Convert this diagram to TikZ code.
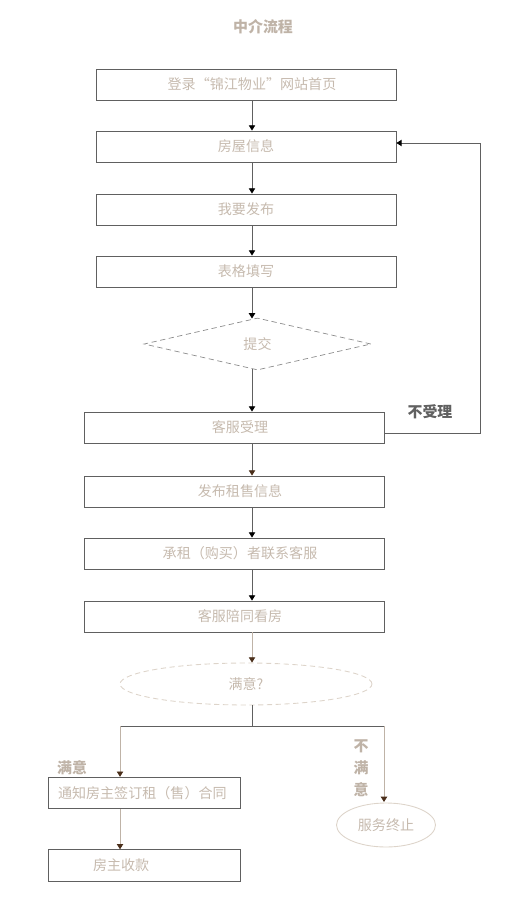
\documentclass[tikz,border=0pt]{standalone}
\usepackage{fontspec}
\newfontfamily\cjk{Noto Sans CJK SC}
\usetikzlibrary{shapes.geometric,arrows.meta}
\definecolor{boxgray}{HTML}{606060}
\definecolor{txtgray}{HTML}{C6BAAE}
\definecolor{tanline}{HTML}{BFB3A7}
\definecolor{tipbrown}{HTML}{4A2E1A}
\definecolor{dashgray}{HTML}{8C8C8C}
\definecolor{palering}{HTML}{DDD4CA}

\begin{document}
\begin{tikzpicture}[x=0.02cm, y=-0.02cm, line width=0.5pt,
    every node/.style={font=\cjk\fontsize{8}{10}\selectfont, text=txtgray, inner sep=0pt},
    stepbox/.style={draw=boxgray, rectangle, minimum width=6cm, minimum height=0.62cm},
    textshift/.style={execute at begin node={\hspace*{0.24cm}}},
    smallbox/.style={draw=boxgray, rectangle, minimum width=3.84cm, minimum height=0.63cm},
    flow/.style={draw=boxgray, -{Triangle[width=3.6pt,length=3pt,color=black]}},
    flowbrown/.style={draw=boxgray, -{Triangle[width=3.6pt,length=3pt,color=tipbrown]}},
    flowtan/.style={draw=tanline, -{Triangle[width=3.6pt,length=3pt,color=tipbrown]}},
    tag/.style={font=\cjk\bfseries\fontsize{8.5}{12.5}\selectfont}]
      \useasboundingbox (0,0) rectangle (511,912);

      \node[tag, text=tanline] (title) at (263,27) {中介流程};

      \node[stepbox, textshift] (login) at (246,84.5) {登录“锦江物业”网站首页};
      \node[stepbox] (house) at (246,146.5) {房屋信息};
      \node[stepbox] (post) at (246,209.5) {我要发布};
      \node[stepbox] (form) at (246,271.5) {表格填写};
      \node[diamond, draw=dashgray, densely dashed, line width=0.4pt,
            minimum width=4.54cm, minimum height=1.04cm] (submit) at (257.5,344) {提交};
      \node[stepbox, textshift] (accept) at (234,427.5) {客服受理};
      \node[stepbox, textshift] (release) at (234,491.5) {发布租售信息};
      \node[stepbox, textshift] (contact) at (234,553.5) {承租（购买）者联系客服};
      \node[stepbox, textshift] (visit) at (234,616.5) {客服陪同看房};
      \node[ellipse, draw=palering, densely dashed,
            minimum width=5.04cm, minimum height=0.84cm] (happy) at (246,684) {满意?};
      \node[smallbox, align=left, text width=3.44cm] (contract) at (144,793) {通知房主签订租（售）合同};
      \node[smallbox, align=left, text width=2.04cm] (payment) at (144,865.5) {房主收款};
      \node[ellipse, draw=palering, minimum width=1.98cm, minimum height=0.88cm] (stop) at (386,825) {服务终止};

      \coordinate (spine) at (252,0);
      \coordinate (back1) at (384,433);
      \coordinate (back2) at (480,433);
      \coordinate (back3) at (480,143);
      \coordinate (fork) at (252,726);
      \coordinate (forkl) at (120,726);
      \coordinate (forkr) at (384,726);

      \draw[flow] (login.south -| spine) -- (house.north -| spine);
      \draw[flow] (house.south -| spine) -- (post.north -| spine);
      \draw[flow] (post.south -| spine) -- (form.north -| spine);
      \draw[flow] (form.south -| spine) -- (252,318.5);
      \draw[flow] (252,369) -- (accept.north -| spine);
      \draw[flowbrown] (accept.south -| spine) -- (release.north -| spine);
      \draw[flow] (release.south -| spine) -- (contact.north -| spine);
      \draw[flow] (contact.south -| spine) -- (visit.north -| spine);
      \draw[flowtan] (visit.south -| spine) -- (happy.north -| spine);

      \draw[flow] (back1) -- (back2) -- (back3) -- (house.east |- back3);
      \node[tag, text=boxgray] (reject) at (430,412) {不受理};

      \draw[draw=boxgray] (happy.south -| spine) -- (fork);
      \draw[draw=boxgray] (forkl) -- (forkr);
      \draw[flowtan] (forkl) -- (contract.north -| forkl);
      \draw[flowtan] (forkr) -- (384,802);
      \draw[flowtan] (contract.south -| forkl) -- (payment.north -| forkl);

      \node[tag, text=tanline] (yes) at (72,768) {满意};
      \node[tag, text=tanline, align=center] (no) at (361,768) {不\\满\\意};
    \end{tikzpicture}
\end{document}
